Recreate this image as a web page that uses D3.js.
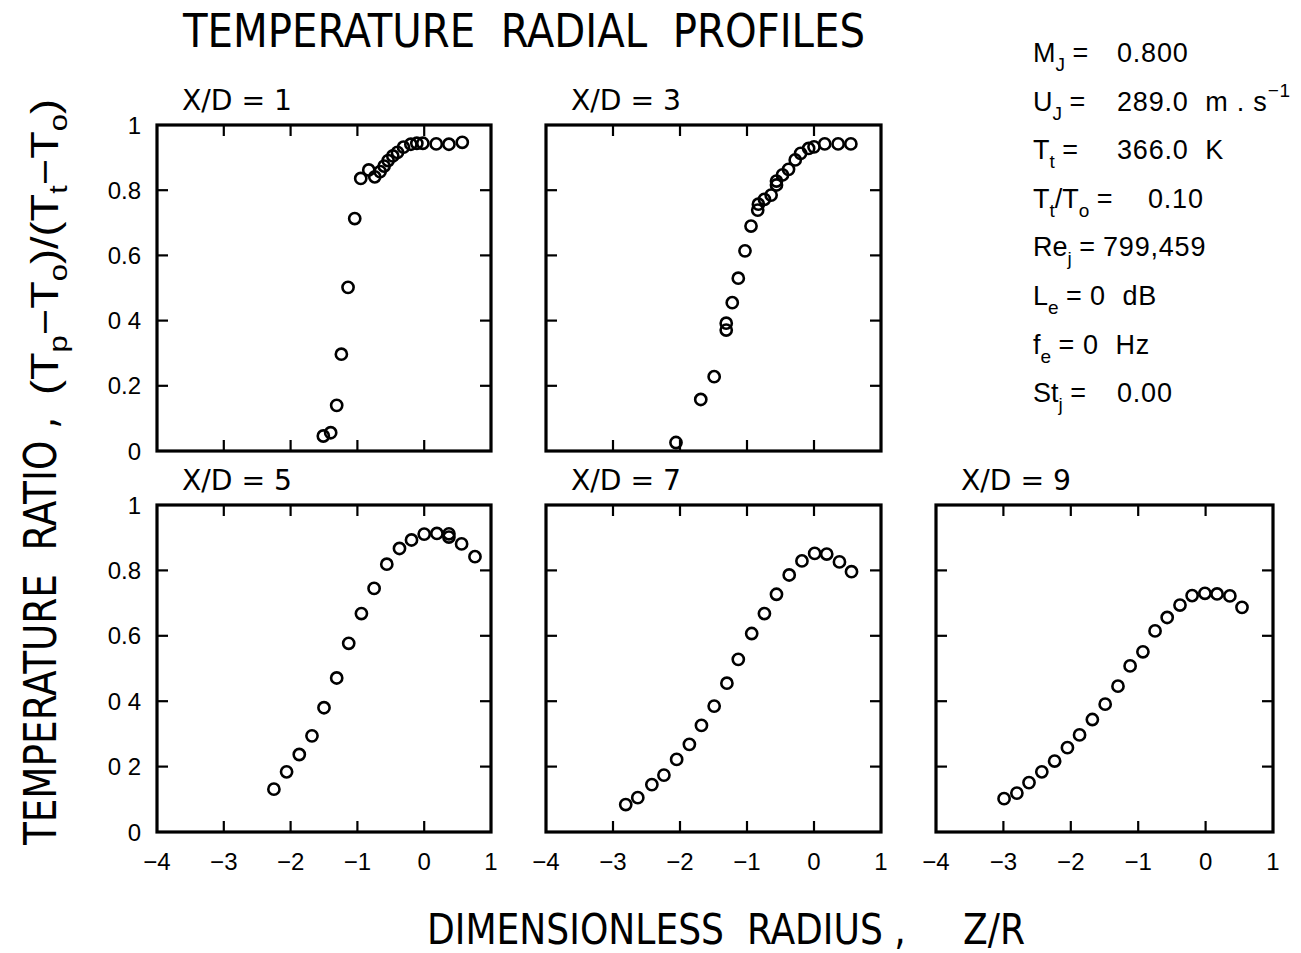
<!DOCTYPE html>
<html><head><meta charset="utf-8">
<script src="https://cdn.jsdelivr.net/npm/d3@7"></script>
<style>body{margin:0;background:#fff} svg text{white-space:pre}</style>
</head><body>
<svg id="c" width="1301" height="953"></svg>
<script>
// ---------------- DATA ----------------
const chartTitle = "TEMPERATURE  RADIAL  PROFILES";
const xAxisTitle = "DIMENSIONLESS  RADIUS ,     Z/R";
const yAxisTitleA = "TEMPERATURE  RATIO ,";
const panelTitles = ["X/D = 1", "X/D = 3", "X/D = 5", "X/D = 7", "X/D = 9"];

const xTickValues = [-4, -3, -2, -1, 0, 1];
const xTickLabels = ["\u22124", "\u22123", "\u22122", "\u22121", "0", "1"];
const yTickValues = [0, 0.2, 0.4, 0.6, 0.8, 1];
const yTickLabelsTop = ["0", "0.2", "0 4", "0.6", "0.8", "1"];
const yTickLabelsBottom = ["0", "0 2", "0 4", "0.6", "0.8", "1"];

const xd1Z = [-1.51,-1.40,-1.31,-1.24,-1.14,-1.04,-0.95,-0.83,-0.74,-0.66,-0.60,-0.54,-0.47,-0.40,-0.31,-0.20,-0.11,-0.02,0.18,0.37,0.57];
const xd1T = [0.046,0.056,0.140,0.297,0.502,0.713,0.836,0.862,0.841,0.857,0.874,0.891,0.905,0.916,0.932,0.941,0.944,0.944,0.942,0.941,0.947];

const xd3Z = [-2.06,-1.69,-1.49,-1.31,-1.31,-1.22,-1.13,-1.03,-0.94,-0.84,-0.83,-0.74,-0.64,-0.56,-0.56,-0.47,-0.38,-0.28,-0.20,-0.08,0.00,0.16,0.36,0.55];
const xd3T = [0.026,0.158,0.228,0.392,0.371,0.455,0.530,0.614,0.690,0.739,0.757,0.772,0.785,0.816,0.828,0.847,0.864,0.893,0.913,0.928,0.933,0.942,0.942,0.942];

const xd5Z = [-2.25,-2.06,-1.87,-1.68,-1.50,-1.31,-1.13,-0.94,-0.75,-0.56,-0.37,-0.19,0.00,0.19,0.37,0.37,0.56,0.76];
const xd5T = [0.131,0.184,0.237,0.294,0.380,0.471,0.577,0.668,0.745,0.819,0.867,0.893,0.911,0.913,0.912,0.902,0.881,0.842];

const xd7Z = [-2.81,-2.63,-2.42,-2.24,-2.05,-1.86,-1.68,-1.49,-1.30,-1.13,-0.93,-0.74,-0.56,-0.37,-0.18,0.01,0.19,0.38,0.56];
const xd7T = [0.084,0.105,0.145,0.174,0.222,0.268,0.326,0.385,0.455,0.528,0.607,0.668,0.727,0.786,0.829,0.852,0.850,0.826,0.796];

const xd9Z = [-2.99,-2.80,-2.62,-2.43,-2.24,-2.05,-1.87,-1.68,-1.49,-1.30,-1.12,-0.93,-0.75,-0.57,-0.38,-0.20,-0.01,0.17,0.36,0.54];
const xd9T = [0.102,0.119,0.151,0.184,0.217,0.258,0.297,0.344,0.391,0.446,0.508,0.551,0.615,0.656,0.694,0.723,0.730,0.728,0.722,0.687];

// legend (conditions): name parts and value parts; "sub"/"sup" mark sub/superscripts
const legendNames = [
  [["M"],["J","sub"],[" ="]],
  [["U"],["J","sub"],[" ="]],
  [["T"],["t","sub"],[" ="]],
  [["T"],["t","sub"],["/T"],["o","sub"],[" ="]],
  [["Re"],["j","sub"],[" ="]],
  [["L"],["e","sub"],[" ="]],
  [["f"],["e","sub"],[" ="]],
  [["St"],["j","sub"],[" ="]]
];
const legendValues = [
  [["0.800"]],
  [["289.0  m . s"],["\u22121","sup"]],
  [["366.0  K"]],
  [["0.10"]],
  [["799,459"]],
  [["0  dB"]],
  [["0  Hz"]],
  [["0.00"]]
];

// ---------------- LAYOUT ----------------
const svg = d3.select("#c");
const NARROW = "'Liberation Sans Narrow','DejaVu Sans Condensed','Arial Narrow',sans-serif";
const SANS = "'Liberation Sans',Arial,Helvetica,sans-serif";

const panels = [
  {z: xd1Z, t: xd1T, l:157, top:125, w:334, h:326, yl: yTickLabelsTop, xl:false},
  {z: xd3Z, t: xd3T, l:546, top:125, w:335, h:326, yl: null, xl:false},
  {z: xd5Z, t: xd5T, l:157, top:505, w:334, h:327, yl: yTickLabelsBottom, xl:true},
  {z: xd7Z, t: xd7T, l:546, top:505, w:335, h:327, yl: null, xl:true},
  {z: xd9Z, t: xd9T, l:936, top:505, w:337, h:327, yl: null, xl:true}
];

// title
svg.append("text").attr("x",183).attr("y",47)
  .attr("font-family",NARROW).attr("font-size",46)
  .attr("textLength",682).attr("lengthAdjust","spacingAndGlyphs")
  .text(chartTitle);

panels.forEach((p,i)=>{
  const x = d3.scaleLinear().domain([-4,1]).range([p.l, p.l+p.w]);
  const y = d3.scaleLinear().domain([0,1]).range([p.top+p.h, p.top]);
  const g = svg.append("g");
  const tl = 11;
  const xInner = xTickValues.slice(1,-1);
  const yInner = yTickValues.slice(1,-1);
  g.selectAll(".xtb").data(xInner).enter().append("line")
    .attr("x1",d=>x(d)).attr("x2",d=>x(d)).attr("y1",y(0)).attr("y2",y(0)-tl)
    .attr("stroke","#000").attr("stroke-width",2.2);
  g.selectAll(".xtt").data(xInner).enter().append("line")
    .attr("x1",d=>x(d)).attr("x2",d=>x(d)).attr("y1",y(1)).attr("y2",y(1)+tl)
    .attr("stroke","#000").attr("stroke-width",2.2);
  g.selectAll(".ytl").data(yInner).enter().append("line")
    .attr("x1",x(-4)).attr("x2",x(-4)+tl).attr("y1",d=>y(d)).attr("y2",d=>y(d))
    .attr("stroke","#000").attr("stroke-width",2.2);
  g.selectAll(".ytr").data(yInner).enter().append("line")
    .attr("x1",x(1)).attr("x2",x(1)-tl).attr("y1",d=>y(d)).attr("y2",d=>y(d))
    .attr("stroke","#000").attr("stroke-width",2.2);
  g.append("rect").attr("x",x(-4)).attr("y",y(1)).attr("width",x(1)-x(-4)).attr("height",y(0)-y(1))
    .attr("fill","none").attr("stroke","#000").attr("stroke-width",3.2);
  if (p.yl) {
    g.selectAll(".yl").data(yTickValues).enter().append("text")
      .attr("x",x(-4)-16).attr("y",d=>y(d)).attr("dy","0.36em")
      .attr("text-anchor","end").attr("font-family",SANS).attr("font-size",24)
      .text((d,k)=>p.yl[k]);
  }
  if (p.xl) {
    g.selectAll(".xl").data(xTickValues).enter().append("text")
      .attr("x",d=>x(d)).attr("y",y(0)+38)
      .attr("text-anchor","middle").attr("font-family",SANS).attr("font-size",24)
      .text((d,k)=>xTickLabels[k]);
  }
  g.append("text").attr("x",p.l+25).attr("y",p.top-15)
    .attr("font-family",NARROW).attr("font-size",29)
    .attr("textLength",110).attr("lengthAdjust","spacingAndGlyphs")
    .text(panelTitles[i]);
  g.selectAll("circle").data(p.z.map((v,k)=>[v,p.t[k]])).enter().append("circle")
    .attr("cx",d=>x(d[0])).attr("cy",d=>y(d[1])).attr("r",5.6)
    .attr("fill","none").attr("stroke","#000").attr("stroke-width",2.6);
});

// x axis title
svg.append("text").attr("x",427).attr("y",944)
  .attr("font-family",NARROW).attr("font-size",42)
  .attr("textLength",598).attr("lengthAdjust","spacingAndGlyphs")
  .text(xAxisTitle);

// y axis title (rotated)
const yg = svg.append("g");
yg.append("text").attr("transform","translate(56,845) rotate(-90)")
  .attr("font-family",NARROW).attr("font-size",44)
  .attr("textLength",428).attr("lengthAdjust","spacingAndGlyphs")
  .text(yAxisTitleA);
const ft = yg.append("text").attr("transform","translate(58,395) rotate(-90)")
  .attr("font-family",SANS).attr("font-size",38)
  .attr("textLength",296).attr("lengthAdjust","spacingAndGlyphs");
const formula = [["(T"],["p","sub"],["\u2212T"],["o","sub"],[")/(T"],["t","sub"],["\u2212T"],["o","sub"],[")"]];
let fsh = 0;
formula.forEach(part=>{
  const s = ft.append("tspan").text(part[0]);
  if (part[1]==="sub") { s.attr("dy",9-fsh).attr("font-size",26); fsh=9; }
  else { s.attr("dy",-fsh); fsh=0; }
});

// legend
const legendValueX = [1117,1117,1117,1148,1103,1090,1083,1117];
legendNames.forEach((parts,i)=>{
  const by = 62 + i*48.6;
  const t = svg.append("text").attr("x",1033).attr("y",by)
    .attr("font-family",SANS).attr("font-size",27);
  let shifted = 0;
  parts.forEach(pt=>{
    const s = t.append("tspan").text(pt[0]);
    if (pt[1]==="sub") { s.attr("dy",9-shifted).attr("font-size",19); shifted=9; }
    else { s.attr("dy",-shifted); shifted=0; }
  });
  const v = svg.append("text").attr("x",legendValueX[i]).attr("y",by)
    .attr("font-family",SANS).attr("font-size",27).attr("letter-spacing",0.8);
  let sh = 0;
  legendValues[i].forEach(pt=>{
    const s = v.append("tspan").text(pt[0]);
    if (pt[1]==="sup") { s.attr("dy",-14-sh).attr("font-size",19); sh=-14; }
    else { s.attr("dy",-sh); sh=0; }
  });
});
</script>
</body></html>
